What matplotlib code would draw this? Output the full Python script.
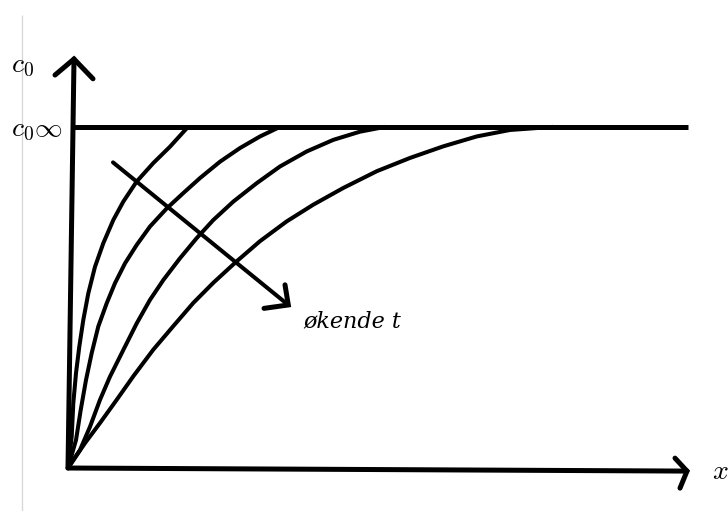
import matplotlib
matplotlib.use("Agg")
import matplotlib.pyplot as plt

plt.rcParams["mathtext.fontset"] = "cm"

# Concentration profiles c/c0_inf versus depth x (arbitrary units), one per time
x_t1 = [0.000, 0.037, 0.053, 0.080, 0.113, 0.153, 0.203, 0.270, 0.353, 0.453,
        0.553, 0.687, 0.853, 1.020, 1.200]
c_t1 = [0.000, 0.092, 0.190, 0.278, 0.356, 0.434, 0.512, 0.590, 0.659, 0.727,
        0.781, 0.840, 0.894, 0.942, 1.000]

x_t2 = [0.000, 0.080, 0.127, 0.180, 0.237, 0.303, 0.387, 0.470, 0.570, 0.687,
        0.820, 0.987, 1.153, 1.320, 1.520, 1.720, 1.920, 2.120]
c_t2 = [0.000, 0.082, 0.170, 0.258, 0.337, 0.415, 0.483, 0.542, 0.600, 0.654,
        0.708, 0.761, 0.806, 0.850, 0.898, 0.938, 0.972, 1.000]

x_t3 = [0.000, 0.120, 0.220, 0.320, 0.420, 0.553, 0.687, 0.820, 0.953, 1.120,
        1.287, 1.453, 1.653, 1.887, 2.120, 2.387, 2.653, 2.920, 3.170]
c_t3 = [0.000, 0.053, 0.121, 0.200, 0.268, 0.346, 0.424, 0.493, 0.551, 0.615,
        0.674, 0.727, 0.781, 0.835, 0.884, 0.928, 0.962, 0.986, 1.000]

x_t4 = [0.000, 0.170, 0.320, 0.487, 0.653, 0.853, 1.053, 1.253, 1.453, 1.687,
        1.920, 2.187, 2.453, 2.753, 3.087, 3.420, 3.753, 4.087, 4.420, 4.850]
c_t4 = [0.000, 0.073, 0.132, 0.200, 0.269, 0.347, 0.416, 0.484, 0.543, 0.606,
        0.665, 0.723, 0.772, 0.821, 0.870, 0.909, 0.943, 0.972, 0.991, 1.000]

profiles = [(x_t1, c_t1), (x_t2, c_t2), (x_t3, c_t3), (x_t4, c_t4)]

# Saturation level c0_inf
c_inf = 1.0
c_inf_span = [0.04, 6.20]

# Hand-drawn axes with open arrowheads
y_axis_x = [0.00, 0.06]
y_axis_c = [0.00, 1.199]
y_head_x = [-0.13, 0.06, 0.25]
y_head_c = [1.152, 1.199, 1.141]

x_axis_x = [0.00, 6.19]
x_axis_c = [0.00, -0.009]
x_head_x = [6.07, 6.19, 6.12]
x_head_c = [0.029, -0.009, -0.059]

# "increasing t" arrow
t_arrow_x = [0.45, 2.203]
t_arrow_c = [0.896, 0.478]
t_head_x = [2.17, 2.203, 1.96]
t_head_c = [0.537, 0.478, 0.468]

fig = plt.figure(figsize=(7.28, 5.11), dpi=100)
ax = fig.add_axes([0, 0, 1, 1])
ax.set_xlim(-0.68, 6.60)
ax.set_ylim(-0.126, 1.372)
ax.axis("off")

ink = "black"
lw_axis = 3.6
lw_curve = 2.9

# thin page margin line
ax.plot([-0.46, -0.46], [-0.126, 1.327], color="#d6d6d6", lw=0.9, solid_capstyle="butt")

ax.plot(y_axis_x, y_axis_c, color=ink, lw=lw_axis, solid_capstyle="round")
ax.plot(y_head_x, y_head_c, color=ink, lw=lw_axis, solid_capstyle="round", solid_joinstyle="miter")
ax.plot(x_axis_x, x_axis_c, color=ink, lw=lw_axis, solid_capstyle="round")
ax.plot(x_head_x, x_head_c, color=ink, lw=lw_axis, solid_capstyle="round", solid_joinstyle="miter")

ax.plot(c_inf_span, [c_inf, c_inf], color=ink, lw=lw_axis, solid_capstyle="butt")

for xs, cs in profiles:
    ax.plot(xs, cs, color=ink, lw=lw_curve, solid_capstyle="round", solid_joinstyle="round")

ax.plot(t_arrow_x, t_arrow_c, color=ink, lw=lw_curve, solid_capstyle="round")
ax.plot(t_head_x, t_head_c, color=ink, lw=lw_axis, solid_capstyle="round", solid_joinstyle="miter")

ax.text(-0.57, 1.18, r"$c_0$", fontsize=20, ha="left", va="center")
ax.text(-0.57, 0.995, r"$c_0\infty$", fontsize=20, ha="left", va="center")
ax.text(2.35, 0.43, "økende t", fontsize=16, family="DejaVu Serif",
        style="italic", ha="left", va="center")
ax.text(6.44, -0.01, r"$x$", fontsize=20, ha="left", va="center")

fig.savefig("out.png", dpi=100)
